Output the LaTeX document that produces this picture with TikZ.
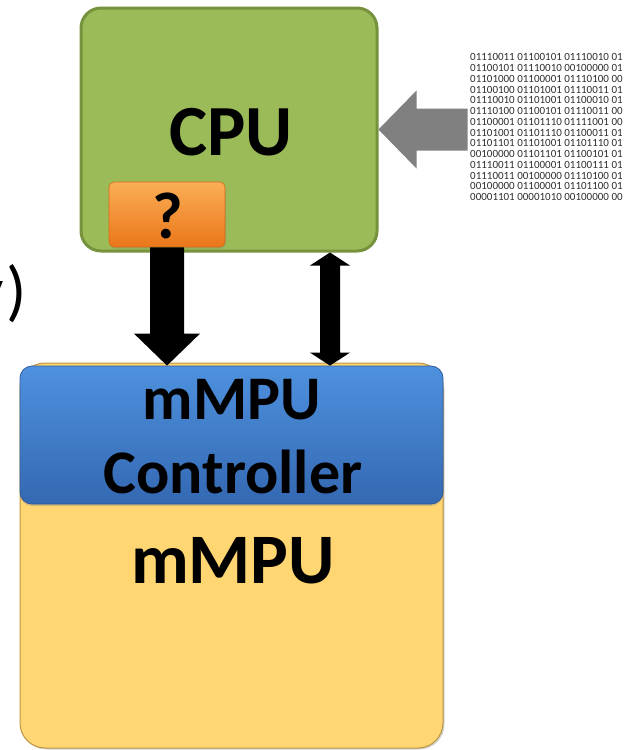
\documentclass[tikz,border=0pt]{standalone}
\usepackage{fontspec}
\setmainfont{Carlito}
\usetikzlibrary{calc,shadows}

\definecolor{cpufill}{RGB}{155,187,89}
\definecolor{cpuline}{RGB}{118,146,60}
\definecolor{qtop}{RGB}{251,174,86}
\definecolor{qbot}{RGB}{234,118,26}
\definecolor{qline}{RGB}{212,108,24}
\definecolor{ctrltop}{RGB}{78,145,222}
\definecolor{ctrlbot}{RGB}{52,104,178}
\definecolor{ctrlline}{RGB}{48,92,156}
\definecolor{memfill}{RGB}{255,214,113}
\definecolor{memline}{RGB}{186,148,66}
\definecolor{feedgray}{RGB}{128,128,128}
\definecolor{bitgray}{RGB}{45,45,45}

\tikzset{
  blk/.style={rectangle, inner sep=0pt},
  lbl/.style={anchor=base, inner sep=0pt, font=\bfseries},
  fatarrow/.style={fill=black},
}

\begin{document}
\begin{tikzpicture}[x=1pt,y=-1pt]
\useasboundingbox (0,0) rectangle (625,750);

% memory array and its controller
\node[blk, draw=memline, line width=1pt, fill=memfill, rounded corners=25pt,
      minimum width=423pt, minimum height=385pt,
      drop shadow={shadow xshift=1.5pt, shadow yshift=-1.5pt, opacity=0.35}]
      (mem) at (231.5,555.5) {};
\node[blk, draw=ctrlline, line width=0.8pt, top color=ctrltop, bottom color=ctrlbot,
      rounded corners=12pt, minimum width=423pt, minimum height=138pt,
      drop shadow={shadow xshift=0pt, shadow yshift=-2pt, opacity=0.35}]
      (ctrl) at (231.5,435) {};

% processor with its unknown unit
\node[blk, draw=cpuline, line width=3pt, fill=cpufill, rounded corners=20pt,
      minimum width=296pt, minimum height=243pt] (cpu) at (229,129.5) {};
\node[blk, draw=qline, line width=0.6pt, top color=qtop, bottom color=qbot,
      rounded corners=5pt, minimum width=116pt, minimum height=65pt,
      drop shadow={shadow xshift=1pt, shadow yshift=-1.5pt, opacity=0.3}]
      (q) at (167,214.5) {};

% labels
\node[lbl, font=\bfseries\fontsize{72}{86}\selectfont] (cputxt) at (231,155) {CPU};
\node[lbl, font=\bfseries\fontsize{66}{80}\selectfont] (qtxt) at (167.5,238) {?};
\node[lbl, font=\bfseries\fontsize{62}{74}\selectfont] (ctrltxt1) at (232,419) {mMPU};
\node[lbl, font=\bfseries\fontsize{62}{74}\selectfont] (ctrltxt2) at (233,493) {Controller};
\node[lbl, font=\bfseries\fontsize{71}{86}\selectfont] (memtxt) at (233,583) {mMPU};
\node[anchor=base east, inner sep=0pt, font=\fontsize{67}{80}\selectfont] (tail) at (27,313) {y\kern2.5pt)};

% bit stream fed to the processor
\node[anchor=north west, inner sep=0pt, align=left, text=bitgray,
      font=\fontsize{11}{10.75}\selectfont] (bits) at (470,53.5) {%
01110011 01100101 01110010 01\\
01100101 01110010 00100000 01\\
01101000 01100001 01110100 00\\
01100100 01101001 01110011 01\\
01110010 01101001 01100010 01\\
01110100 01100101 01110011 00\\
01100001 01101110 01111001 00\\
01101001 01101110 01100011 01\\
01101101 01101001 01101110 01\\
00100000 01101101 01100101 01\\
01110011 01100001 01100111 01\\
01110011 00100000 01110100 01\\
00100000 01100001 01101100 01\\
00001101 00001010 00100000 00};

% gray input arrow into the CPU
\coordinate (gtip) at (cpu.east);
\fill[feedgray] (gtip) -- ++(38,-39) -- ++(0,18) -- ++(51,0) -- ++(0,42)
  -- ++(-51,0) -- ++(0,18) -- cycle;

% thick offload arrow from the unknown unit to the controller
\coordinate (dtip) at (q.south |- ctrl.north);
\fill[fatarrow] (dtip) -- ($(dtip)+(-33,-32)$) -- ($(dtip)+(-17,-32)$)
  -- ($(q.south)+(-17,0)$) -- ($(q.south)+(17,0)$)
  -- ($(dtip)+(17,-32)$) -- ($(dtip)+(33,-32)$) -- cycle;

% two-way link between CPU and controller
\coordinate (ua) at (330,0 |- cpu.south);
\coordinate (ub) at (330,0 |- ctrl.north);
\fill[fatarrow] (ua) -- ($(ua)+(20,13)$) -- ($(ua)+(10,13)$)
  -- ($(ub)+(10,-13)$) -- ($(ub)+(20,-13)$) -- (ub)
  -- ($(ub)+(-20,-13)$) -- ($(ub)+(-10,-13)$)
  -- ($(ua)+(-10,13)$) -- ($(ua)+(-20,13)$) -- cycle;
\end{tikzpicture}
\end{document}
